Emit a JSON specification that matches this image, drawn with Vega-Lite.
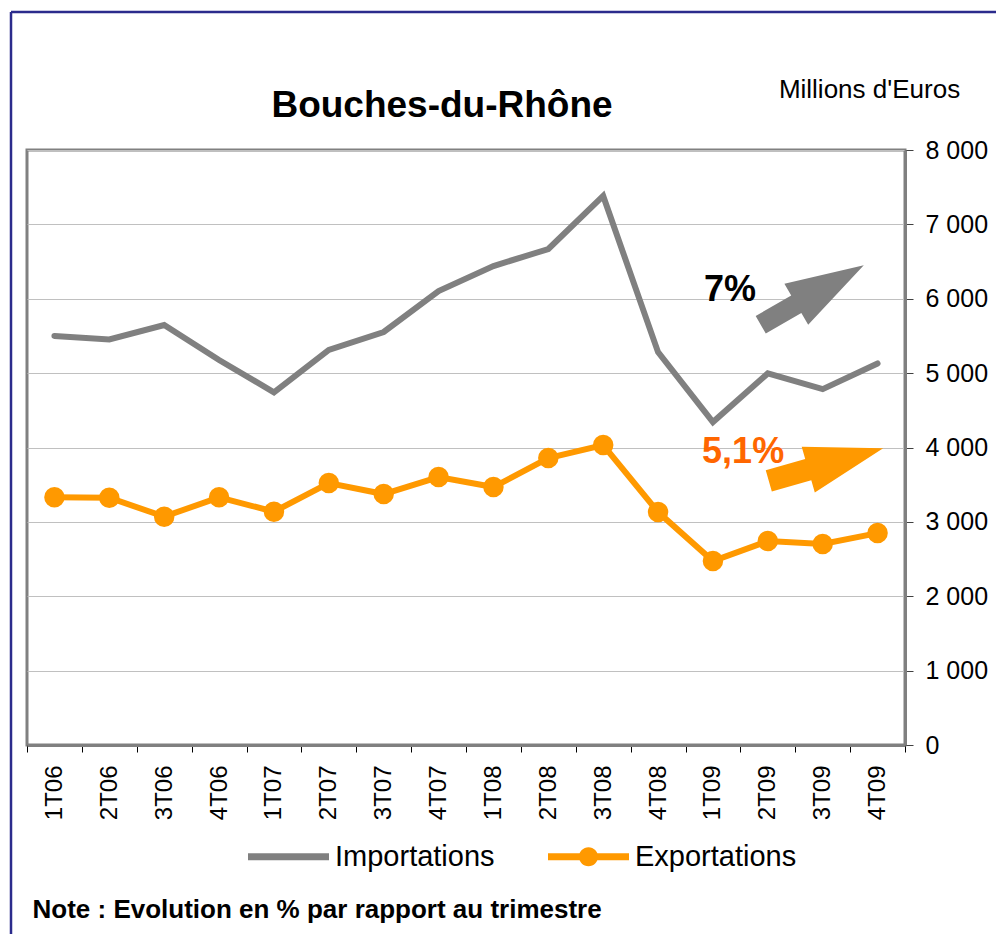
{
  "$schema": "https://vega.github.io/schema/vega-lite/v6.json",
  "width": 878,
  "height": 595,
  "autosize": {"type": "none"},
  "padding": {"left": 27, "top": 150, "right": 91, "bottom": 189},
  "background": "white",
  "config": {
    "font": "Liberation Sans",
    "view": {"stroke": "#808080", "strokeWidth": 3}
  },
  "datasets": {
    "series": [
      {"serie": "Importations", "q": "1T06", "v": 5500},
      {"serie": "Importations", "q": "2T06", "v": 5452},
      {"serie": "Importations", "q": "3T06", "v": 5647},
      {"serie": "Importations", "q": "4T06", "v": 5176},
      {"serie": "Importations", "q": "1T07", "v": 4742},
      {"serie": "Importations", "q": "2T07", "v": 5311},
      {"serie": "Importations", "q": "3T07", "v": 5553},
      {"serie": "Importations", "q": "4T07", "v": 6104},
      {"serie": "Importations", "q": "1T08", "v": 6440},
      {"serie": "Importations", "q": "2T08", "v": 6669},
      {"serie": "Importations", "q": "3T08", "v": 7382},
      {"serie": "Importations", "q": "4T08", "v": 5282},
      {"serie": "Importations", "q": "1T09", "v": 4342},
      {"serie": "Importations", "q": "2T09", "v": 4996},
      {"serie": "Importations", "q": "3T09", "v": 4785},
      {"serie": "Importations", "q": "4T09", "v": 5130},
      {"serie": "Exportations", "q": "1T06", "v": 3330},
      {"serie": "Exportations", "q": "2T06", "v": 3325},
      {"serie": "Exportations", "q": "3T06", "v": 3070},
      {"serie": "Exportations", "q": "4T06", "v": 3330},
      {"serie": "Exportations", "q": "1T07", "v": 3137},
      {"serie": "Exportations", "q": "2T07", "v": 3522},
      {"serie": "Exportations", "q": "3T07", "v": 3374},
      {"serie": "Exportations", "q": "4T07", "v": 3602},
      {"serie": "Exportations", "q": "1T08", "v": 3468},
      {"serie": "Exportations", "q": "2T08", "v": 3858},
      {"serie": "Exportations", "q": "3T08", "v": 4032},
      {"serie": "Exportations", "q": "4T08", "v": 3132},
      {"serie": "Exportations", "q": "1T09", "v": 2473},
      {"serie": "Exportations", "q": "2T09", "v": 2742},
      {"serie": "Exportations", "q": "3T09", "v": 2702},
      {"serie": "Exportations", "q": "4T09", "v": 2849}
    ],
    "notes": [
      {"serie": "Importations", "label": "7%", "xi": 12.81, "v": 5970},
      {"serie": "Exportations", "label": "5,1%", "xi": 13.05, "v": 3792}
    ],
    "heading": [
      {"label": "Bouches-du-Rhône", "xi": 7.563, "v": 8440}
    ],
    "arrows": [
      {"serie": "Importations", "xi": 14.31, "v": 6050},
      {"serie": "Exportations", "xi": 14.56, "v": 3771}
    ],
    "frame": [
      {"xi": -0.2916, "xi2": 18.5, "v": 9855, "v2": 9855},
      {"xi": -0.2916, "xi2": -0.2916, "v": 9855, "v2": -2700}
    ]
  },
  "layer": [
    {
      "encoding": {
        "x": {
          "field": "q",
          "type": "ordinal",
          "sort": null,
          "scale": {"type": "band", "paddingInner": 0, "paddingOuter": 0},
          "axis": {
            "title": "Note : Evolution en % par rapport au trimestre",
            "tickBand": "extent",
            "labelAngle": 270,
            "labelFontSize": 24,
            "labelColor": "black",
            "labelPadding": 13,
            "tickSize": 7,
            "tickColor": "black",
            "tickWidth": 1,
            "domainColor": "#808080",
            "domainWidth": 3,
            "grid": false,
            "titleX": 5,
            "titleY": 172,
            "titleAlign": "left",
            "titleAnchor": "start",
            "titleBaseline": "alphabetic",
            "titleFontSize": 26,
            "titleFontWeight": "bold",
            "titleColor": "black"
          }
        },
        "y": {
          "field": "v",
          "type": "quantitative",
          "scale": {"domain": [0, 8000], "nice": false, "zero": false},
          "axis": {
            "orient": "right",
            "values": [0, 1000, 2000, 3000, 4000, 5000, 6000, 7000, 8000],
            "labelExpr": "replace(format(datum.value, ',d'), ',', ' ')",
            "labelFontSize": 25,
            "labelColor": "black",
            "labelFlush": false,
            "labelOverlap": false,
            "labelPadding": 12,
            "tickSize": 8,
            "tickColor": "#404040",
            "tickWidth": 1,
            "domainColor": "#808080",
            "domainWidth": 3,
            "grid": true,
            "gridColor": "#c0c0c0",
            "gridWidth": 1,
            "title": "Millions d'Euros",
            "titleAngle": 0,
            "titleX": -36,
            "titleY": -53,
            "titleAlign": "center",
            "titleBaseline": "alphabetic",
            "titleFontSize": 26,
            "titleFontWeight": "normal",
            "titleColor": "black"
          }
        },
        "color": {
          "field": "serie",
          "type": "nominal",
          "scale": {"domain": ["Importations", "Exportations"], "range": ["#808080", "#FF9900"]},
          "legend": {
            "orient": "none",
            "legendX": 221,
            "legendY": 666,
            "direction": "horizontal",
            "columns": 2,
            "title": null,
            "padding": 0,
            "labelFontSize": 29,
            "labelColor": "black",
            "labelOffset": 6,
            "labelLimit": 400,
            "columnPadding": 53,
            "symbolSize": 6561,
            "symbolStrokeWidth": 0,
            "encode": {
              "symbols": {
                "update": {
                  "shape": {"signal": "datum.value === 'Exportations' ? 'M-1,-0.086L1,-0.086L1,0.086L-1,0.086Z M0.235,0A0.235,0.235 0 1 1 -0.235,0A0.235,0.235 0 1 1 0.235,0Z' : 'M-1,-0.086L1,-0.086L1,0.086L-1,0.086Z'"},
                  "fill": {"signal": "datum.value === 'Exportations' ? '#FF9900' : '#808080'"},
                  "stroke": {"value": "transparent"},
                  "opacity": {"value": 1},
                  "fillOpacity": {"value": 1}
                }
              }
            }
          }
        }
      },
      "layer": [
        {
          "data": {"name": "series"},
          "mark": {"type": "line", "strokeWidth": 6, "strokeJoin": "miter", "strokeCap": "round"}
        },
        {
          "data": {"name": "series"},
          "transform": [{"filter": "datum.serie === 'Exportations'"}],
          "mark": {"type": "point", "shape": "circle", "filled": true, "size": 420, "opacity": 1, "strokeWidth": 0}
        }
      ]
    },
    {
      "encoding": {
        "x": {"field": "xi", "type": "quantitative", "scale": {"domain": [0, 16], "nice": false, "zero": false}, "axis": null},
        "y": {"field": "v", "type": "quantitative", "scale": {"domain": [0, 8000], "nice": false, "zero": false}, "title": "Millions d'Euros"}
      },
      "layer": [
        {
          "data": {"name": "frame"},
          "mark": {"type": "rule", "color": "#2B2B8C", "strokeWidth": 2.5, "clip": false},
          "encoding": {
            "x2": {"field": "xi2"},
            "y2": {"field": "v2"}
          }
        },
        {
          "data": {"name": "heading"},
          "mark": {"type": "text", "fontSize": 37, "fontWeight": "bold", "color": "black", "align": "center", "baseline": "alphabetic"},
          "encoding": {"text": {"field": "label"}}
        },
        {
          "data": {"name": "arrows"},
          "transform": [{"filter": "datum.serie === 'Importations'"}],
          "mark": {"type": "point", "shape": "M-1,-0.17L-0.31,-0.17L-0.31,-0.4L1,0L-0.31,0.4L-0.31,0.17L-1,0.17Z", "size": 14161, "angle": -30, "filled": true, "color": "#808080", "opacity": 1, "strokeWidth": 0}
        },
        {
          "data": {"name": "arrows"},
          "transform": [{"filter": "datum.serie === 'Exportations'"}],
          "mark": {"type": "point", "shape": "M-1,-0.185L-0.31,-0.185L-0.31,-0.4L1,0L-0.31,0.4L-0.31,0.185L-1,0.185Z", "size": 14161, "angle": -16, "filled": true, "color": "#FF9900", "opacity": 1, "strokeWidth": 0}
        },
        {
          "data": {"name": "notes"},
          "transform": [{"filter": "datum.serie === 'Importations'"}],
          "mark": {"type": "text", "fontSize": 36, "fontWeight": "bold", "color": "black", "align": "center", "baseline": "alphabetic"},
          "encoding": {"text": {"field": "label"}}
        },
        {
          "data": {"name": "notes"},
          "transform": [{"filter": "datum.serie === 'Exportations'"}],
          "mark": {"type": "text", "fontSize": 36, "fontWeight": "bold", "color": "#FF6600", "align": "center", "baseline": "alphabetic"},
          "encoding": {"text": {"field": "label"}}
        }
      ]
    }
  ],
  "resolve": {"scale": {"x": "independent"}}
}
